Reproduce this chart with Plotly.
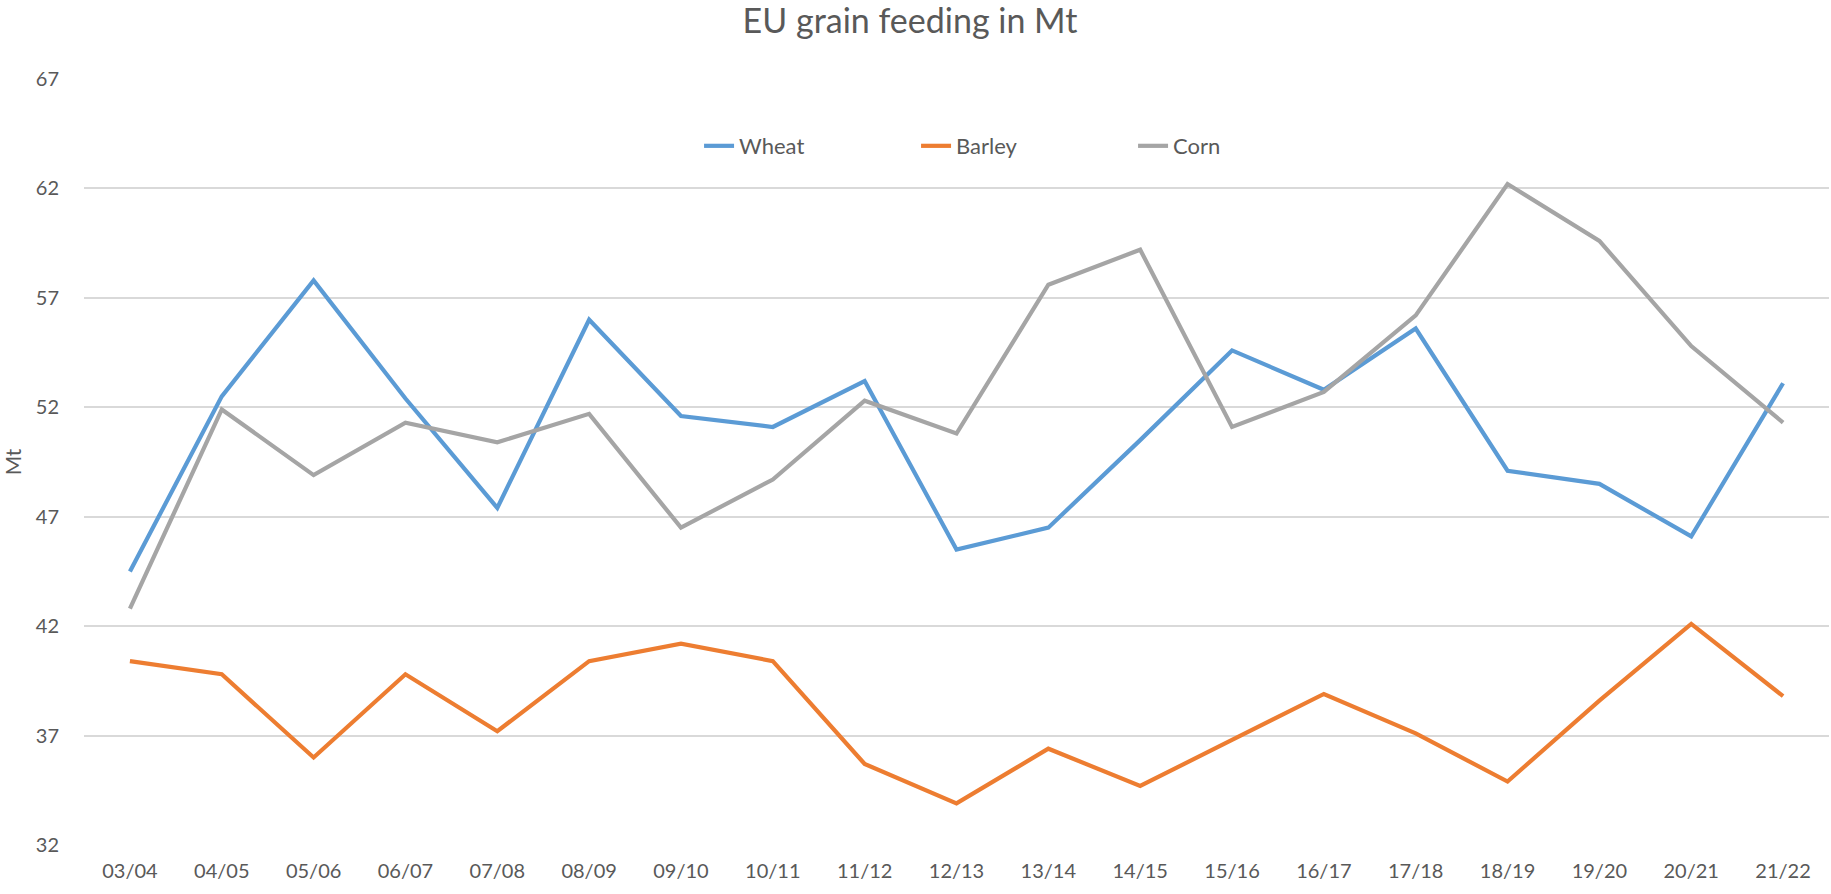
import plotly.graph_objects as go

seasons = ["03/04", "04/05", "05/06", "06/07", "07/08", "08/09", "09/10", "10/11",
           "11/12", "12/13", "13/14", "14/15", "15/16", "16/17", "17/18", "18/19",
           "19/20", "20/21", "21/22"]

wheat = [44.5, 52.5, 57.8, 52.4, 47.4, 56.0, 51.6, 51.1, 53.2, 45.5, 46.5, 50.5,
         54.6, 52.8, 55.6, 49.1, 48.5, 46.1, 53.1]
barley = [40.4, 39.8, 36.0, 39.8, 37.2, 40.4, 41.2, 40.4, 35.7, 33.9, 36.4, 34.7,
          36.8, 38.9, 37.1, 34.9, 38.6, 42.1, 38.8]
corn = [42.8, 51.9, 48.9, 51.3, 50.4, 51.7, 46.5, 48.7, 52.3, 50.8, 57.6, 59.2,
        51.1, 52.7, 56.2, 62.2, 59.6, 54.8, 51.3]

y_ticks = [32, 37, 42, 47, 52, 57, 62, 67]

series = [("Wheat", wheat, "#5B9BD5"), ("Barley", barley, "#ED7D31"), ("Corn", corn, "#A5A5A5")]

FONT = "Lato, 'Open Sans', sans-serif"
TXT = "#595959"

fig = go.Figure()
for name, vals, col in series:
    fig.add_trace(go.Scatter(x=seasons, y=vals, name=name, mode="lines",
                             line=dict(color=col, width=4.2)))

fig.update_layout(
    width=1831, height=894,
    margin=dict(l=84, r=2, t=79, b=49),
    paper_bgcolor="white", plot_bgcolor="white",
    font=dict(family=FONT, size=20, color=TXT),
    title=dict(text="EU grain feeding in Mt", x=0.497, xanchor="center",
               y=1 - 21 / 894, yanchor="middle", yref="container",
               font=dict(family=FONT, size=34, color=TXT)),
    legend=dict(orientation="h", x=0.539, xanchor="center", y=0.9125, yanchor="middle",
                font=dict(family=FONT, size=22, color=TXT),
                entrywidth=172, entrywidthmode="pixels",
                bgcolor="rgba(0,0,0,0)"),
    showlegend=True,
)
fig.update_xaxes(type="category", range=[-0.5, len(seasons) - 0.5],
                 showgrid=False, showline=False, zeroline=False,
                 ticks="", ticklabelstandoff=12,
                 tickfont=dict(family=FONT, size=20, color=TXT))
fig.update_yaxes(range=[32, 67], tickvals=y_ticks, ticktext=[str(v) for v in y_ticks],
                 showgrid=True, gridcolor="#D9D9D9", gridwidth=1.5,
                 zeroline=False, showline=False, ticks="", ticklabelstandoff=24,
                 tickfont=dict(family=FONT, size=20, color=TXT),
                 title=dict(text="Mt", standoff=16, font=dict(family=FONT, size=21, color=TXT)))

fig.write_html("out.html", config={"displayModeBar": False},
               post_script="document.body.style.margin='0';document.body.style.overflow='hidden';")
